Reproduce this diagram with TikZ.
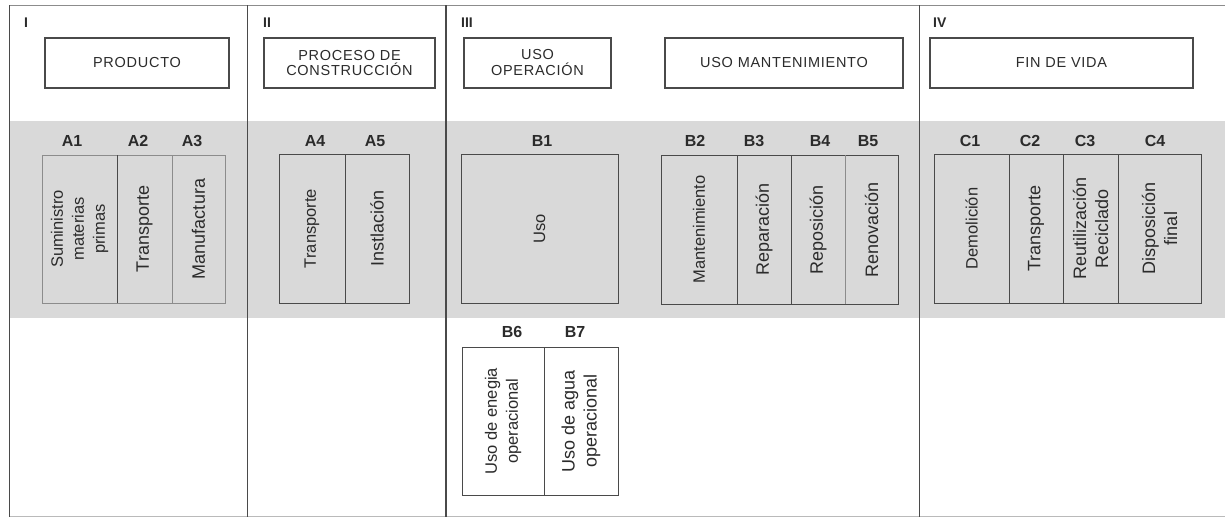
\documentclass[tikz,border=0pt]{standalone}
\usepackage{fontspec}
\setmainfont{Liberation Sans}
\newfontfamily\hdrfont[LetterSpace=5]{Liberation Sans}
\definecolor{band}{HTML}{D9D9D9}
\definecolor{ink}{HTML}{2B2B2B}
\definecolor{edge}{HTML}{4A4A4A}
\definecolor{soft}{HTML}{8C8C8C}
\begin{document}
\begin{tikzpicture}[x=1pt,y=-1pt,
  frameline/.style={draw=edge, line width=0.9pt},
  hdr/.style={draw=edge, line width=1.1pt, align=center, inner sep=0pt, text=ink,
    font=\hdrfont\fontsize{14.5}{16}\selectfont},
  code/.style={font=\bfseries\fontsize{16}{16}\selectfont, text=ink},
  roman/.style={font=\bfseries\fontsize{14}{14}\selectfont, anchor=base west, inner sep=0pt, text=ink},
  cell/.style={draw=edge, line width=0.9pt, rotate=90, align=center, inner sep=0pt, text=ink,
    font=\fontsize{18}{22}\selectfont},
  small/.style={font=\fontsize{16.5}{21}\selectfont},
  wcell/.style={cell, fill=white},
]
\useasboundingbox (0,0) rectangle (1225,517);
% grey band
\fill[band] (9,121) rectangle (1225,318);
% frame
\draw[frameline, draw=soft] (9,5) -- (1225,5);
\draw[draw=soft!60, line width=0.8pt] (9,516) -- (1225,516);
\draw[frameline] (9,5) -- (9,517);
\draw[frameline] (247,5) -- (247,517);
\draw[frameline, line width=1.6pt] (446,5) -- (446,517);
\draw[frameline] (919,5) -- (919,517);
% roman numerals
\node[roman] (rI) at (24,27) {I};
\node[roman] (rII) at (263,27) {II};
\node[roman] (rIII) at (461,27) {III};
\node[roman] (rIV) at (933,27) {IV};
% header boxes
\node[hdr, minimum width=184, minimum height=50] (hP) at (137,63) {PRODUCTO};
\node[hdr, minimum width=171, minimum height=50] (hC) at (349.5,63) {PROCESO DE\\[-1pt]CONSTRUCCIÓN};
\node[hdr, minimum width=147, minimum height=50] (hO) at (537.5,63) {USO\\[0pt]OPERACIÓN};
\node[hdr, minimum width=238, minimum height=50] (hM) at (784,63) {USO MANTENIMIENTO};
\node[hdr, minimum width=263, minimum height=50] (hF) at (1061.5,63) {FIN DE VIDA};
% stage codes
\node[code] (lA1) at (72,141) {A1};
\node[code] (lA2) at (138,141) {A2};
\node[code] (lA3) at (192,141) {A3};
\node[code] (lA4) at (315,141) {A4};
\node[code] (lA5) at (375,141) {A5};
\node[code] (lB1) at (542,141) {B1};
\node[code] (lB2) at (695,141) {B2};
\node[code] (lB3) at (754,141) {B3};
\node[code] (lB4) at (820,141) {B4};
\node[code] (lB5) at (868,141) {B5};
\node[code] (lC1) at (970,141) {C1};
\node[code] (lC2) at (1030,141) {C2};
\node[code] (lC3) at (1085,141) {C3};
\node[code] (lC4) at (1155,141) {C4};
\node[code] (lB6) at (512,332) {B6};
\node[code] (lB7) at (575,332) {B7};
% cells (minimum width = vertical extent, minimum height = horizontal extent)
\node[cell, small, draw=soft, minimum width=148, minimum height=75] (A1) at (79.5,229) {Suministro\\materias\\primas};
\node[cell, draw=soft, minimum width=148, minimum height=55] (A2) at (144.5,229) {Transporte};
\node[cell, draw=soft, minimum width=148, minimum height=53] (A3) at (198.5,229) {Manufactura};
\node[cell, small, minimum width=149, minimum height=66] (A4) at (312,228.5) {Transporte};
\node[cell, minimum width=149, minimum height=64] (A5) at (377,228.5) {Instlación};
\node[cell, small, minimum width=149, minimum height=157] (B1) at (539.5,228.5) {Uso};
\node[cell, small, minimum width=149, minimum height=76] (B2) at (699,229.5) {Mantenimiento};
\node[cell, minimum width=149, minimum height=54] (B3) at (764,229.5) {Reparación};
\node[cell, minimum width=149, minimum height=54] (B4) at (818,229.5) {Reposición};
\node[cell, minimum width=149, minimum height=53] (B5) at (871.5,229.5) {Renovación};
\node[cell, small, minimum width=149, minimum height=75] (C1) at (971.5,228.5) {Demolición};
\node[cell, minimum width=149, minimum height=54] (C2) at (1036,228.5) {Transporte};
\node[cell, minimum width=149, minimum height=55] (C3) at (1090.5,228.5) {Reutilización\\Reciclado};
\node[cell, minimum width=149, minimum height=83] (C4) at (1159.5,228.5) {Disposición\\final};
\node[wcell, small, minimum width=148, minimum height=82] (B6) at (503,421) {Uso de enegia\\operacional};
\node[wcell, minimum width=148, minimum height=74] (B7) at (581,421) {Uso de agua\\operacional};
% emphasised / light dividers
\draw[edge, line width=1.5pt] (A1.south west) -- (A1.south east);
\draw[soft, line width=0.7pt] (B4.south west) -- (B4.south east);
\draw[edge, line width=1.2pt] (B2.south west) -- (B2.south east);
\end{tikzpicture}
\end{document}
